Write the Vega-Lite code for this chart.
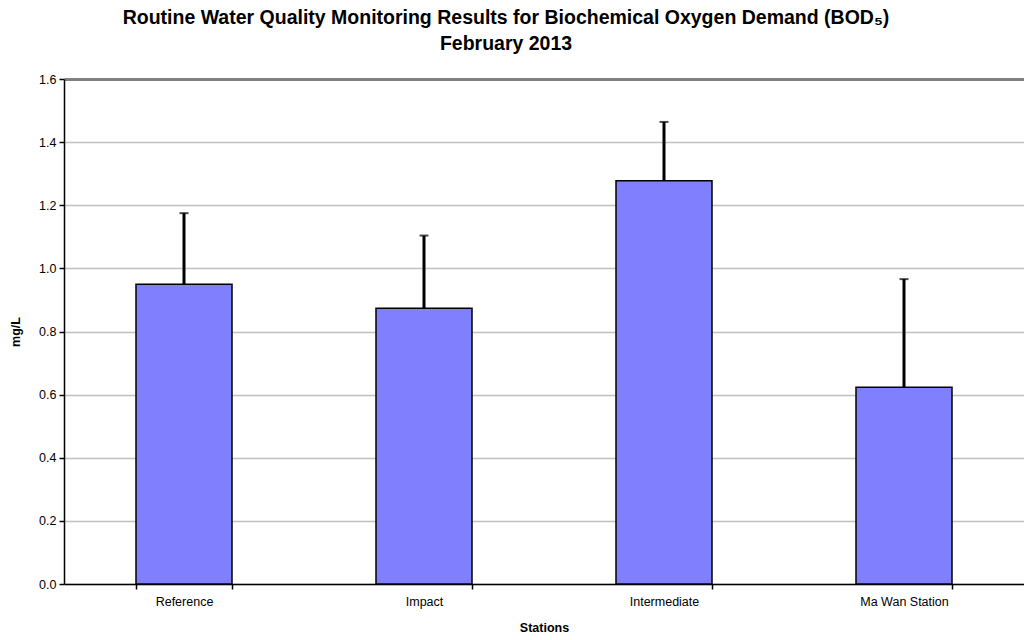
{
  "$schema": "https://vega.github.io/schema/vega-lite/v6.json",
  "autosize": "none",
  "width": 960,
  "height": 505,
  "padding": {"left": 64, "top": 79, "right": 0, "bottom": 56},
  "background": "white",
  "title": {
    "text": ["Routine Water Quality Monitoring Results for Biochemical Oxygen Demand (BOD₅)", "February 2013"],
    "font": "Liberation Sans",
    "fontSize": 19.5,
    "fontWeight": "bold",
    "color": "black",
    "anchor": "middle",
    "frame": "group",
    "dx": -38,
    "offset": 19,
    "lineHeight": 26
  },
  "data": {
    "values": [
      {"station": "Reference", "mean": 0.95, "upper": 1.175},
      {"station": "Impact", "mean": 0.874, "upper": 1.104},
      {"station": "Intermediate", "mean": 1.278, "upper": 1.464},
      {"station": "Ma Wan Station", "mean": 0.623, "upper": 0.966}
    ]
  },
  "config": {
    "view": {"stroke": null},
    "axis": {
      "labelFont": "Liberation Sans",
      "labelFontSize": 12.5,
      "labelColor": "black",
      "titleFont": "Liberation Sans",
      "titleFontSize": 12.5,
      "titleFontWeight": "bold",
      "titleColor": "black",
      "domainColor": "black",
      "domainWidth": 1.5,
      "tickColor": "black",
      "tickWidth": 1.5,
      "tickSize": 5
    }
  },
  "encoding": {
    "x": {
      "field": "station",
      "type": "nominal",
      "sort": null,
      "scale": {"paddingInner": 0.6, "paddingOuter": 0.3, "align": 0.5},
      "axis": {
        "title": "Stations",
        "labelAngle": 0,
        "tickBand": "extent",
        "labelPadding": 6,
        "titlePadding": 14,
        "grid": false
      }
    }
  },
  "layer": [
    {
      "mark": {"type": "bar", "color": "#8080FF", "stroke": "black", "strokeWidth": 1.5},
      "encoding": {
        "y": {
          "field": "mean",
          "type": "quantitative",
          "scale": {"domain": [0, 1.6], "nice": false},
          "axis": {
            "title": "mg/L",
            "format": ".1f",
            "values": [0, 0.2, 0.4, 0.6, 0.8, 1.0, 1.2, 1.4, 1.6],
            "grid": true,
            "gridColor": {"condition": {"test": "datum.value >= 1.59", "value": "#808080"}, "value": "#c0c0c0"},
            "gridWidth": {"condition": {"test": "datum.value >= 1.59", "value": 3}, "value": 1.5},
            "labelPadding": 3,
            "titlePadding": 16
          }
        }
      }
    },
    {
      "mark": {"type": "rule", "color": "black", "strokeWidth": 3},
      "encoding": {
        "y": {"field": "mean", "type": "quantitative"},
        "y2": {"field": "upper"}
      }
    },
    {
      "mark": {"type": "tick", "color": "black", "thickness": 2, "size": 9},
      "encoding": {
        "y": {"field": "upper", "type": "quantitative"}
      }
    }
  ]
}
